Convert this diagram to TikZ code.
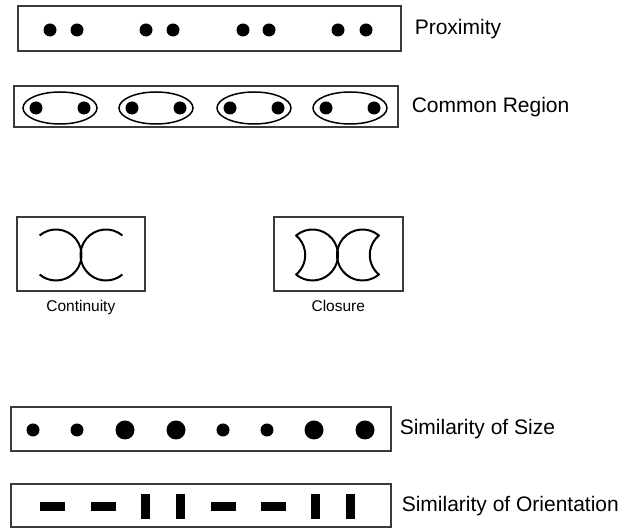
\documentclass[tikz,border=0pt]{standalone}
\usepackage{fontspec}
\setmainfont{Liberation Sans}
\usetikzlibrary{positioning,shapes.geometric}
\definecolor{PanelLine}{HTML}{3A3A3A}

\begin{document}
\begin{tikzpicture}[x=1pt,y=1pt]
    \tikzset{panel/.style={draw=PanelLine,line width=1.6pt,inner sep=0pt,anchor=south west},
      dot/.style={circle,fill=black,inner sep=0pt,minimum size=#1},
      dot/.default=13pt,
      bar/.style={fill=black,inner sep=0pt},
      group/.style={ellipse,draw,line width=1.5pt,inner sep=0pt,minimum width=74pt,minimum height=32pt},
      caption/.style={inner sep=0pt,font=\fontsize{21}{24}\selectfont},
      smallcap/.style={inner sep=0pt,font=\fontsize{15.5}{18}\selectfont},
      curve/.style={line width=2pt,line join=round}}
    \useasboundingbox (0,0) rectangle (632,529);
    % proximity
    \node[panel,minimum width=383pt,minimum height=45pt] (prox) at (17,477) {};
    \foreach \x in {50,77,146,173,243,269,338,366}
      \node[dot] (p-\x) at (\x,499) {};
    \node[caption,right=13pt of prox] (proxlabel) {Proximity};
    % common region
    \node[panel,minimum width=384pt,minimum height=41pt] (region) at (13,401) {};
    \foreach \x in {60,156,254,350} {
      \node[group] (g-\x) at (\x,421) {};
      \node[dot] (gl-\x) at (\x-24,421) {};
      \node[dot] (gr-\x) at (\x+24,421) {};
    }
    \node[caption,right=13pt of region] (regionlabel) {Common Region};
    % continuity and closure
    \node[panel,minimum width=128pt,minimum height=74pt] (cont) at (16,237) {};
    \draw[curve] (56,274) ++(130:25.5) arc[start angle=130,end angle=-130,radius=25.5];
    \draw[curve] (106,274) ++(50:25.5) arc[start angle=50,end angle=310,radius=25.5];
    \node[smallcap,below=8pt of cont] (contlabel) {Continuity};
    \node[panel,minimum width=129pt,minimum height=74pt] (clos) at (273,237) {};
    \draw[curve] (312.5,274) ++(130:25.5) arc[start angle=130,end angle=-130,radius=25.5]
      arc[start angle=-50,end angle=50,radius=25.5] -- cycle;
    \draw[curve] (362.5,274) ++(50:25.5) arc[start angle=50,end angle=310,radius=25.5]
      arc[start angle=230,end angle=130,radius=25.5] -- cycle;
    \node[smallcap,below=8pt of clos] (closlabel) {Closure};
    % similarity of size
    \node[panel,minimum width=380pt,minimum height=44pt] (size) at (10,77) {};
    \foreach \x/\d in {33/13,77/13,125/19,176/19,223/13,267/13,314/19,365/19}
      \node[dot=\d pt] (s-\x) at (\x,99) {};
    \node[caption,right=8pt of size] (sizelabel) {Similarity of Size};
    % similarity of orientation
    \node[panel,minimum width=380pt,minimum height=43pt] (orient) at (10,1) {};
    \foreach \x/\w/\h in {52/25/9,103/25/9,145/9/25,180/9/25,223/25/9,273/25/9,315/9/25,350/9/25}
      \node[bar,minimum width=\w pt,minimum height=\h pt] (o-\x) at (\x,22.5) {};
    \node[caption,right=10pt of orient] (orientlabel) {Similarity of Orientation};
  \end{tikzpicture}
\end{document}
